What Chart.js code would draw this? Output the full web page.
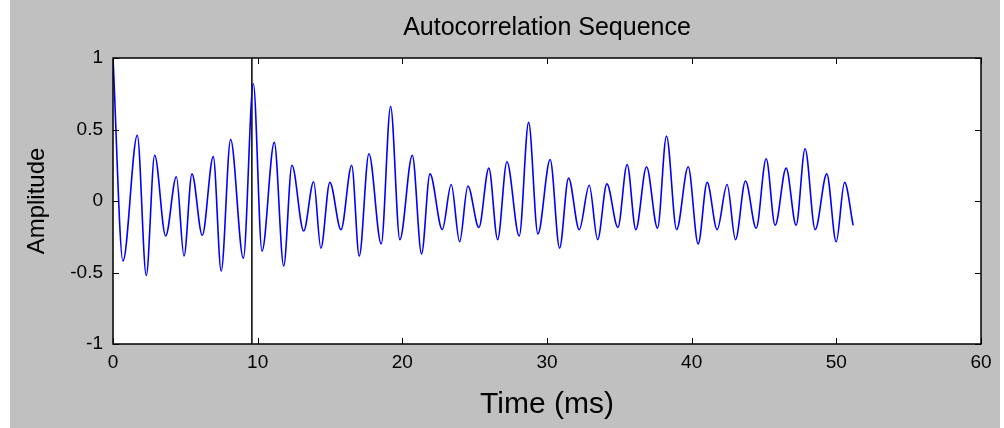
<!DOCTYPE html>
<html>
<head>
<meta charset="utf-8">
<title>Autocorrelation Sequence</title>
<script src="https://cdn.jsdelivr.net/npm/chart.js@4.4.1/dist/chart.umd.min.js"></script>
<style>
	html, body { margin: 0; padding: 0; background: #ffffff; }
	#wrap { position: relative; width: 1004px; height: 428px; }
</style>
</head>
<body>
<div id="wrap"><canvas id="chart-autocorr"></canvas></div>
<script>
// Extrema of the autocorrelation (time in ms, amplitude)
const TIME_MS = [
	0, 0.69, 1.68, 2.30, 2.88, 3.64, 4.38, 4.91, 5.46, 6.17,
	6.93, 7.48, 8.13, 9.01, 9.70, 10.30, 11.15, 11.80, 12.37, 13.18,
	13.87, 14.37, 14.99, 15.76, 16.50, 17.02, 17.69, 18.54, 19.19, 19.83,
	20.69, 21.33, 21.91, 22.76, 23.38, 23.96, 24.53, 25.29, 25.98, 26.59,
	27.23, 28.08, 28.73, 29.37, 30.22, 30.87, 31.49, 32.23, 32.92, 33.50,
	34.14, 34.90, 35.54, 36.14, 36.88, 37.64, 38.26, 38.96, 39.76, 40.45,
	41.07, 41.76, 42.45, 43.03, 43.72, 44.46, 45.15, 45.77, 46.53, 47.22,
	47.84, 48.54, 49.34, 49.99, 50.57, 51.16,
];
const AMPLITUDE = [
	1.0, -0.42, 0.46, -0.52, 0.32, -0.245, 0.17, -0.385, 0.19, -0.24,
	0.31, -0.49, 0.43, -0.40, 0.82, -0.35, 0.41, -0.455, 0.25, -0.21,
	0.135, -0.33, 0.13, -0.20, 0.25, -0.385, 0.33, -0.30, 0.66, -0.27,
	0.32, -0.37, 0.19, -0.20, 0.115, -0.285, 0.105, -0.185, 0.23, -0.27,
	0.275, -0.245, 0.55, -0.23, 0.29, -0.33, 0.16, -0.20, 0.11, -0.27,
	0.12, -0.185, 0.255, -0.20, 0.24, -0.19, 0.455, -0.20, 0.24, -0.30,
	0.13, -0.20, 0.115, -0.27, 0.14, -0.19, 0.295, -0.17, 0.23, -0.17,
	0.365, -0.20, 0.19, -0.285, 0.13, -0.17,
];

// Vertical marker line (pitch period)
const MARKER_TIME = [9.6, 9.6];
const MARKER_AMP = [-1, 1];

// Axis ticks
const X_TICKS = [0, 10, 20, 30, 40, 50, 60];
const Y_TICKS = [-1, -0.5, 0, 0.5, 1];

const FONT = "'Liberation Sans', Arial, Helvetica, sans-serif";
const FIG_GRAY = "#c0c0c0";

const toPoints = (xs, ys) => xs.map((x, i) => ({ x: x, y: ys[i] }));

//---------------------------------------------------------
// Plugins: figure background, white axes box, inward ticks
//---------------------------------------------------------
const matlabFrame = {
	id: "matlabFrame",
	beforeDraw(chart) {
		const { ctx, chartArea: a, width, height } = chart;
		ctx.save();
		ctx.fillStyle = "#ffffff";
		ctx.fillRect(0, 0, width, height);
		ctx.fillStyle = FIG_GRAY;
		ctx.fillRect(10, 0, width - 14, height);
		ctx.fillStyle = "#ffffff";
		ctx.fillRect(a.left, a.top, a.right - a.left, a.bottom - a.top);
		ctx.restore();
	},
	afterDatasetsDraw(chart) {
		const { ctx, chartArea: a, scales } = chart;
		const len = 6;
		ctx.save();
		ctx.strokeStyle = "#000000";
		ctx.lineWidth = 1;
		ctx.beginPath();
		X_TICKS.forEach((v) => {
			const px = Math.round(scales.x.getPixelForValue(v)) + 0.5;
			ctx.moveTo(px, a.bottom);
			ctx.lineTo(px, a.bottom - len);
			ctx.moveTo(px, a.top);
			ctx.lineTo(px, a.top + len);
		});
		Y_TICKS.forEach((v) => {
			const py = Math.round(scales.y.getPixelForValue(v)) + 0.5;
			ctx.moveTo(a.left, py);
			ctx.lineTo(a.left + len, py);
			ctx.moveTo(a.right, py);
			ctx.lineTo(a.right - len, py);
		});
		ctx.stroke();
		ctx.lineWidth = 1.5;
		ctx.strokeRect(a.left, a.top, a.right - a.left, a.bottom - a.top);
		ctx.restore();
	},
};

// Chart data
const CHART_DATA = {
	datasets: [
		{
			label: "Autocorrelation",
			data: toPoints(TIME_MS, AMPLITUDE),
			borderColor: "#0000ff",
			borderWidth: 1.6,
			cubicInterpolationMode: "monotone",
			pointRadius: 0,
			fill: false,
		},
		{
			label: "Marker",
			data: toPoints(MARKER_TIME, MARKER_AMP),
			borderColor: "#000000",
			borderWidth: 1.5,
			pointRadius: 0,
			fill: false,
		},
	],
};

// Chart config
const CHART_CONFIG = {
	type: "line",
	data: CHART_DATA,
	plugins: [matlabFrame],
	options: {
		responsive: true,
		maintainAspectRatio: false,
		animation: false,
		layout: {
			padding: { left: 0, right: 23, top: 0, bottom: 0 },
		},
		scales: {
			x: {
				type: "linear",
				min: 0,
				max: 60,
				afterBuildTicks: (scale) => {
					scale.ticks = X_TICKS.map((v) => ({ value: v }));
				},
				afterFit: (scale) => {
					scale.height = 84;
				},
				grid: { display: false, drawTicks: false },
				border: { display: false },
				ticks: {
					padding: 7,
					color: "#000000",
					font: { family: FONT, size: 19 },
					maxRotation: 0,
				},
				title: {
					display: true,
					text: "Time (ms)",
					color: "#000000",
					font: { family: FONT, size: 30 },
					padding: { top: 0, bottom: 5 },
				},
			},
			// Top axis only carries the title, centred over the axes box like MATLAB
			xTop: {
				type: "linear",
				position: "top",
				min: 0,
				max: 60,
				afterFit: (scale) => {
					scale.height = 58;
				},
				grid: { display: false, drawTicks: false },
				border: { display: false },
				ticks: { display: false },
				title: {
					display: true,
					text: "Autocorrelation Sequence",
					color: "#000000",
					font: { family: FONT, size: 25 },
					padding: { top: 13, bottom: 0 },
				},
			},
			y: {
				type: "linear",
				min: -1,
				max: 1,
				afterBuildTicks: (scale) => {
					scale.ticks = Y_TICKS.map((v) => ({ value: v }));
				},
				afterFit: (scale) => {
					scale.width = 113;
				},
				grid: { display: false, drawTicks: false },
				border: { display: false },
				ticks: {
					padding: 10,
					color: "#000000",
					font: { family: FONT, size: 19 },
					callback: (value) => String(value),
				},
				title: {
					display: true,
					text: "Amplitude",
					color: "#000000",
					font: { family: FONT, size: 24 },
					padding: { top: 23, bottom: 0 },
				},
			},
		},
		plugins: {
			legend: { display: false },
			tooltip: { enabled: false },
			title: { display: false },
		},
	},
};

// Chart init
const CHART_WRAPPER = document.getElementById("chart-autocorr");
if (CHART_WRAPPER) {
	new Chart(CHART_WRAPPER, CHART_CONFIG);
}
</script>
</body>
</html>
